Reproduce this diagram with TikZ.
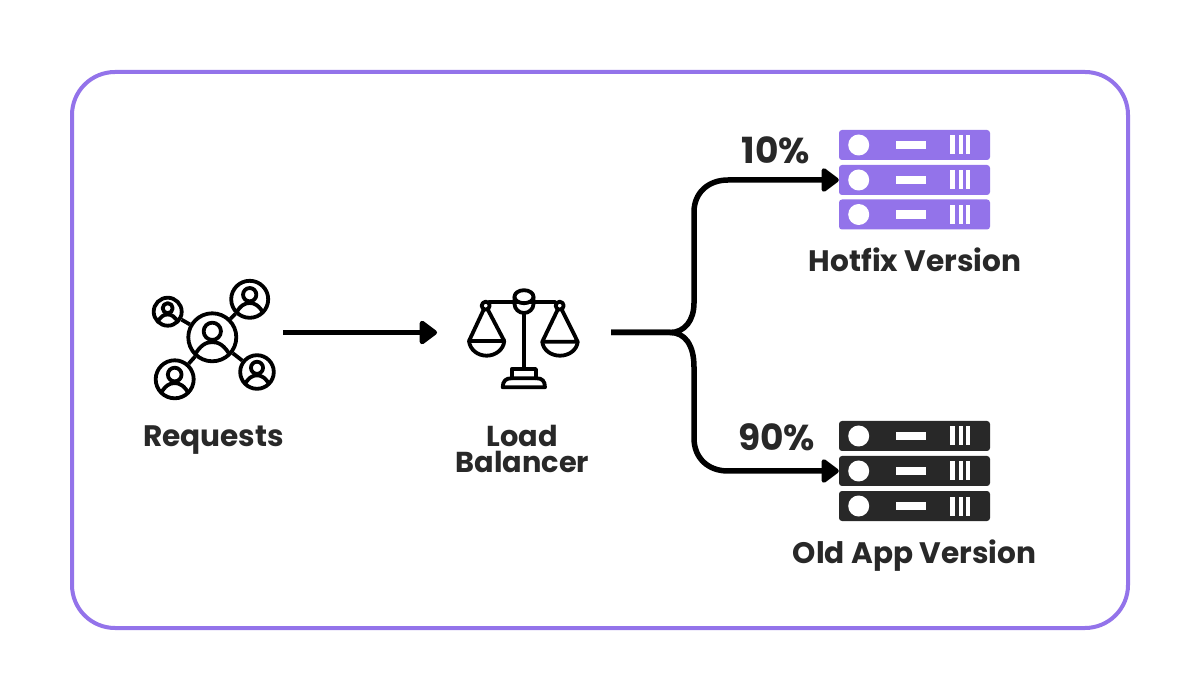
\documentclass[tikz,border=0pt]{standalone}
\usepackage{fontspec}
\setmainfont{Poppins}
\usetikzlibrary{arrows.meta}
\definecolor{violet}{HTML}{9373EA}
\definecolor{ink}{HTML}{282828}
\tikzset{
  x=1pt,y=-1pt,
  frame/.style={draw=violet,line width=4pt,rounded corners=43pt},
  flow/.style={line width=5.5pt,draw=black},
  flowtip/.style={-{Triangle[length=19pt,width=27pt,round]}},
  icon/.style={draw=black,line width=3.8pt,line join=round,line cap=round},
  hubring/.style={circle,draw=black,line width=3.8pt,inner sep=0pt,fill=white},
  bar/.style={rectangle,rounded corners=3pt,minimum width=151pt,minimum height=30pt,inner sep=0pt},
  label/.style={font=\fontsize{29.6}{25}\selectfont\bfseries,text=ink,align=center,inner sep=0pt},
  pct/.style={font=\fontsize{36}{36}\selectfont\bfseries,text=ink,inner sep=0pt},
}
\newcommand{\usericon}[4]{%
  \node[hubring,minimum size=#4*2pt] (#1) at (#2,#3) {};
  \begin{scope}[shift={(#2,#3)}]
    \clip (0,0) circle ({#4});
    \draw[icon] (0,{-0.25*#4}) circle ({0.36*#4});
    \draw[icon] ({-0.8*#4},{0.85*#4}) .. controls ({-0.5*#4},{0.3*#4}) and ({-0.25*#4},{0.2*#4}) .. (0,{0.2*#4})
       .. controls ({0.25*#4},{0.2*#4}) and ({0.5*#4},{0.3*#4}) .. ({0.8*#4},{0.85*#4});
  \end{scope}
}
\newcommand{\serverbar}[3]{%
  \node[bar,fill=#3] (#1) at (914.5,#2) {};
  \fill[white] (858.7,#2) circle (10.5);
  \fill[white] (895.7,{#2-4.3}) rectangle (926,{#2+4.3});
  \fill[white] (950,{#2-9.5}) rectangle (954.5,{#2+9.5});
  \fill[white] (958.5,{#2-9.5}) rectangle (962.5,{#2+9.5});
  \fill[white] (965.5,{#2-9.5}) rectangle (969.5,{#2+9.5});
}
\begin{document}
\begin{tikzpicture}
\useasboundingbox (0,0) rectangle (1200,700);
\fill[white] (0,0) rectangle (1200,700);
\draw[frame] (72,72) rectangle (1128,628);

% requests icon
\usericon{hub}{212.3}{337.3}{24}
\usericon{userA}{249.7}{299.3}{18.5}
\usericon{userB}{167.7}{311.7}{14}
\usericon{userC}{174.7}{379.3}{19}
\usericon{userD}{257}{372}{16.8}
\draw[icon,line cap=butt] (hub) -- (userA);
\draw[icon,line cap=butt] (hub) -- (userB);
\draw[icon,line cap=butt] (hub) -- (userC);
\draw[icon,line cap=butt] (hub) -- (userD);
\node[label,anchor=base] (reqlabel) at (213.5,447) {Requests};

% balance icon
\draw[icon] (524,313) -- (524,369);
\draw[icon] (489,302.3) -- (555,302.3);
\draw[icon] (485.7,305.7) circle (4);
\draw[icon] (559.7,305.7) circle (4);
\draw[icon] (514.5,297) -- (514.5,304) .. controls (514.5,309) and (519,313) .. (524,313)
  .. controls (529,313) and (533.5,309) .. (533.5,304) -- (533.5,297);
\fill[white] (524,296.7) ellipse (9.5 and 6.5);
\draw[icon] (524,296.7) ellipse (9.5 and 6.5);
\draw[icon] (484,309) -- (469,341) -- (504.3,341) -- (487.5,309);
\draw[icon] (469,341) .. controls (470,350) and (478,355.7) .. (486.6,355.7) .. controls (495,355.7) and (503.5,350) .. (504.3,341);
\draw[icon] (558,309) -- (542.3,341.7) -- (577.7,341.7) -- (561.5,309);
\draw[icon] (542.3,341.7) .. controls (543,350) and (551,355.7) .. (560,355.7) .. controls (569,355.7) and (577,350) .. (577.7,341.7);
\draw[icon] (511.7,378.3) -- (511.7,369) -- (536,369) -- (536,378.3);
\draw[icon] (502.7,387.3) .. controls (502.7,381) and (506,378.3) .. (511,378.3) -- (537,378.3)
  .. controls (542,378.3) and (545,381) .. (545,387.3) -- cycle;
\node[label,font=\fontsize{28.8}{25}\selectfont\bfseries,anchor=base] (lblabel) at (522.5,472) {Load\\Balancer};

% servers
\serverbar{hotA}{145}{violet}
\serverbar{hotB}{180}{violet}
\serverbar{hotC}{214.5}{violet}
\serverbar{oldA}{436}{ink}
\serverbar{oldB}{471}{ink}
\serverbar{oldC}{506}{ink}
\node[label,anchor=base] (hotlabel) at (915,271.5) {Hotfix Version};
\node[label,anchor=base] (oldlabel) at (914.5,563.5) {Old App Version};
\node[pct,anchor=base] (tenpct) at (776,164) {10\%};
\node[pct,anchor=base] (ninetypct) at (776.5,450.5) {90\%};

% connectors
\coordinate (reqout) at (283,332.5);
\coordinate (lbin) at (437,332.5);
\coordinate (lbout) at (611,332.5);
\draw[flow,flowtip] (reqout) -- (lbin);
\draw[flow,flowtip] (lbout) -- (670,332.5) .. controls (685,332.5) and (694,320) .. (694,303)
  -- (694,212) .. controls (694,193) and (708,180) .. (728,180) -- (hotB.west);
\draw[flow,flowtip] (lbout) -- (670,332.5) .. controls (685,332.5) and (694,345) .. (694,367)
  -- (694,438) .. controls (694,458) and (708,471) .. (728,471) -- (oldB.west);
\end{tikzpicture}
\end{document}
